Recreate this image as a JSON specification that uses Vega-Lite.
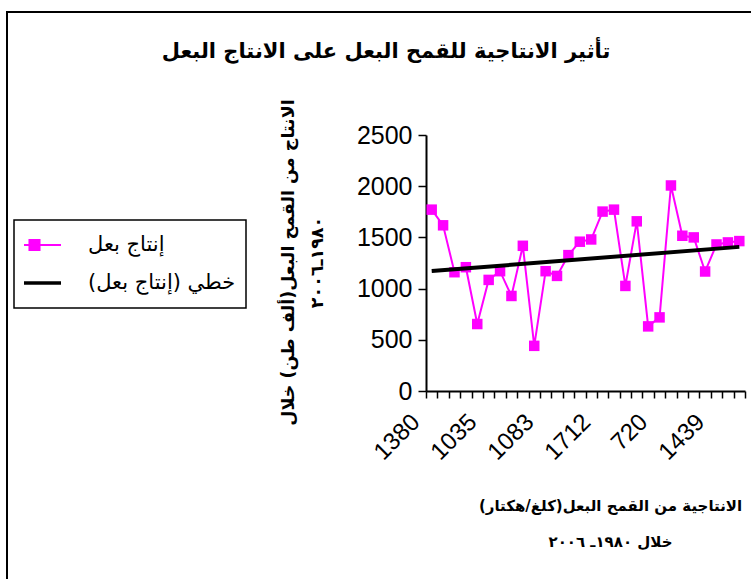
{
  "$schema": "https://vega.github.io/schema/vega-lite/v6.json",
  "width": 750,
  "height": 569,
  "autosize": "none",
  "padding": {"left": 7, "top": 12, "right": 0, "bottom": 0},
  "background": "white",
  "config": {"view": {"stroke": "black", "strokeWidth": 2}},
  "title": {
    "text": "تأثير الانتاجية للقمح البعل على الانتاج البعل",
    "font": "DejaVu Sans", "fontSize": 21, "fontWeight": "bold", "color": "black",
    "anchor": "middle", "frame": "group", "offset": -61, "baseline": "middle", "dx": 4
  },
  "data": {"values": [
    {"i": 1, "prod": 1771}, {"i": 2, "prod": 1618}, {"i": 3, "prod": 1160}, {"i": 4, "prod": 1209},
    {"i": 5, "prod": 654}, {"i": 6, "prod": 1085}, {"i": 7, "prod": 1170}, {"i": 8, "prod": 928},
    {"i": 9, "prod": 1418}, {"i": 10, "prod": 441}, {"i": 11, "prod": 1170}, {"i": 12, "prod": 1124},
    {"i": 13, "prod": 1327}, {"i": 14, "prod": 1458}, {"i": 15, "prod": 1480}, {"i": 16, "prod": 1752},
    {"i": 17, "prod": 1771}, {"i": 18, "prod": 1026}, {"i": 19, "prod": 1657}, {"i": 20, "prod": 631},
    {"i": 21, "prod": 719}, {"i": 22, "prod": 2007}, {"i": 23, "prod": 1516}, {"i": 24, "prod": 1500},
    {"i": 25, "prod": 1167}, {"i": 26, "prod": 1431}, {"i": 27, "prod": 1451}, {"i": 28, "prod": 1464}
  ]},
  "encoding": {
    "x": {
      "field": "i", "type": "ordinal",
      "scale": {"type": "band", "range": [419, 738], "paddingInner": 0, "paddingOuter": 0},
      "axis": {
        "orient": "bottom", "offset": -190, "tickBand": "extent", "tickSize": 7,
        "tickColor": "black", "tickWidth": 1.5, "domainColor": "black", "domainWidth": 2,
        "labelAngle": -45, "labelAlign": "right", "labelBaseline": "middle",
        "labelOverlap": false, "labelFont": "Liberation Sans", "labelFontSize": 24,
        "labelColor": "black", "labelPadding": 20, "labelOffset": -16,
        "labelExpr": "datum.value == 1 ? '1380' : datum.value == 6 ? '1035' : datum.value == 11 ? '1083' : datum.value == 16 ? '1712' : datum.value == 21 ? '720' : datum.value == 26 ? '1439' : ''",
        "title": ["الانتاجية من القمح البعل(كلغ/هكتار)\u200f", "خلال ١٩٨٠ـ ٢٠٠٦"],
        "titleFont": "DejaVu Sans", "titleFontSize": 15, "titleFontWeight": "bold", "titleColor": "black",
        "titleX": 603, "titleY": 114, "titleAlign": "center", "titleBaseline": "middle", "titleLineHeight": 36, "titleAngle": 0
      }
    },
    "y": {
      "field": "prod", "type": "quantitative",
      "scale": {"domain": [0, 2500], "range": [379, 123], "nice": false},
      "axis": {
        "orient": "left", "offset": -419, "values": [0, 500, 1000, 1500, 2000, 2500], "format": "d", "grid": false,
        "tickSize": 8, "tickColor": "black", "tickWidth": 1.5, "domainColor": "black", "domainWidth": 2,
        "labelFont": "Liberation Sans", "labelFontSize": 25, "labelColor": "black", "labelPadding": 6,
        "title": ["الانتاج من القمح البعل(ألف طن) خلال", "١٩٨٠ـ٢٠٠٦"],
        "titleFont": "DejaVu Sans", "titleFontSize": 17.5, "titleFontWeight": "bold", "titleColor": "black",
        "titleAngle": -90, "titleX": -138, "titleY": 250, "titleAlign": "center", "titleBaseline": "middle", "titleLineHeight": 29
      }
    }
  },
  "layer": [
    {
      "mark": {"type": "line", "strokeWidth": 2},
      "encoding": {
        "color": {
          "datum": "إنتاج بعل",
          "scale": {"domain": ["إنتاج بعل", "خطي (إنتاج بعل)\u200f"], "range": ["#FF00FF", "#000000"]},
          "legend": {
            "orient": "none", "legendX": 7, "legendY": 208, "title": null,
            "strokeColor": "black", "padding": 10, "symbolSize": 2809, "clipHeight": 30, "rowPadding": 8,
            "labelFont": "DejaVu Sans", "labelFontSize": 21, "labelColor": "black", "labelOffset": 43, "labelLimit": 300,
            "encode": {
              "legend": {"update": {"strokeWidth": {"value": 1.5}}},
              "symbols": {"update": {
                "shape": {"signal": "datum.value == 'إنتاج بعل' ? 'M-1,0H1M-0.19,-0.19H0.19V0.19H-0.19Z' : 'M-1,0H1'"},
                "fill": {"signal": "datum.value == 'إنتاج بعل' ? '#FF00FF' : 'transparent'"},
                "stroke": {"signal": "datum.value == 'إنتاج بعل' ? '#FF00FF' : '#000000'"},
                "strokeWidth": {"signal": "datum.value == 'إنتاج بعل' ? 2 : 3.5"},
                "opacity": {"value": 1}
              }}
            }
          }
        }
      }
    },
    {
      "mark": {"type": "point", "shape": "square", "filled": true, "size": 110, "opacity": 1},
      "encoding": {"color": {"datum": "إنتاج بعل"}}
    },
    {
      "transform": [{"regression": "prod", "on": "i"}],
      "mark": {"type": "line", "strokeWidth": 4},
      "encoding": {"color": {"datum": "خطي (إنتاج بعل)\u200f"}}
    }
  ]
}
